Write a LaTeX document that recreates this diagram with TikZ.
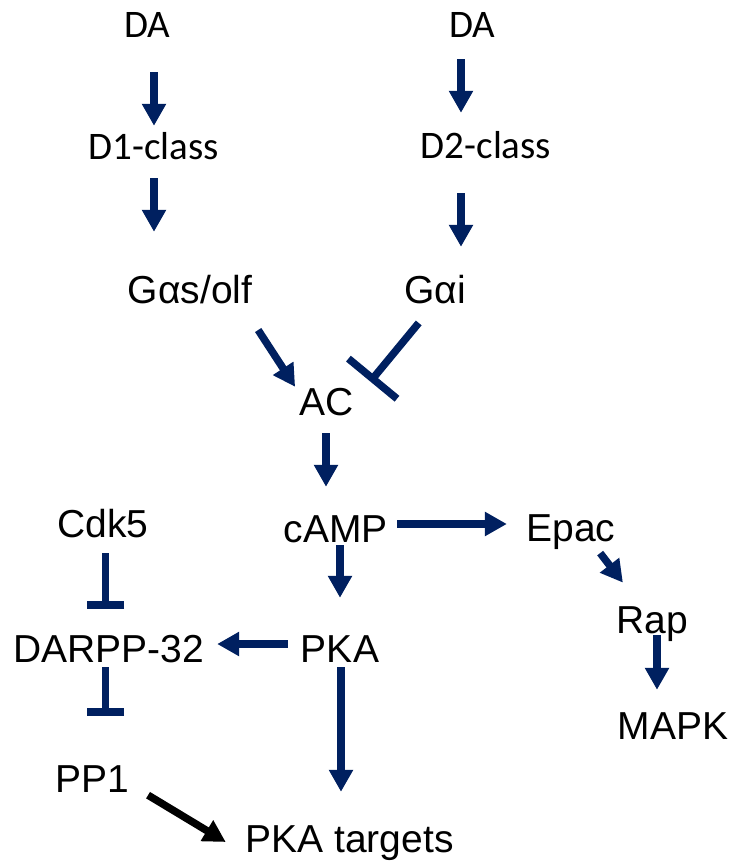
\documentclass[tikz,border=0pt]{standalone}
\usepackage{fontspec}
\setmainfont{Liberation Sans}
\newfontfamily\calibri{Carlito}
\usetikzlibrary{arrows.meta}
\definecolor{navy}{RGB}{0,32,96}
\begin{document}
\begin{tikzpicture}[x=1pt, y=-1pt, font=\fontsize{39}{46}\selectfont,
 lbl/.style={inner sep=0pt, text height=28pt, text depth=0pt},
 dlbl/.style={lbl, font=\fontsize{39}{46}\selectfont\calibri, text height=25pt},
 act/.style={draw=navy, line width=7.5pt, -{Triangle[width=23pt,length=22pt]}},
 inh/.style={draw=navy, line width=7.5pt, -{Bar[width=37pt]}}]
 \useasboundingbox (0,0) rectangle (730,861);
 \node[dlbl] (da1) at (147.5,25) {DA};
 \node[dlbl] (d1) at (153.5,147) {D1-class};
 \node[dlbl] (da2) at (472.5,25) {DA};
 \node[dlbl] (d2) at (486,146) {D2-class};
 \node[lbl] (gs) at (190,289) {Gαs/olf};
 \node[lbl] (gi) at (435,289) {Gαi};
 \node[lbl] (ac) at (327,401) {AC};
 \node[lbl] (camp) at (336,528) {cAMP};
 \node[lbl] (epac) at (571,527) {Epac};
 \node[lbl] (rap) at (652,619) {Rap};
 \node[lbl] (mapk) at (673,725) {MAPK};
 \node[lbl] (cdk) at (103,523) {Cdk5};
 \node[lbl] (darpp) at (109,648) {DARPP-32};
 \node[lbl] (pka) at (340,648) {PKA};
 \node[lbl] (pp1) at (92.5,778) {PP1};
 \node[lbl] (tgt) at (349.5,838) {PKA targets};
 \draw[act, shorten <=34.5pt, shorten >=8.5pt] ([xshift=6.5pt]da1.south) -- ([xshift=0.5pt]d1.north);
 \draw[act, shorten <=18.5pt, shorten >=43pt] ([xshift=0.5pt]d1.south) -- ([xshift=-36pt]gs.north);
 \draw[act, shorten <=21.5pt, shorten >=20.5pt] ([xshift=-11.5pt]da2.south) -- ([xshift=-25pt]d2.north);
 \draw[act, shorten <=34.5pt, shorten >=28pt] ([xshift=-25pt]d2.south) -- ([xshift=26pt]gi.north);
 \draw[act, shorten <=32pt] ([xshift=-11.7pt]gs.south east) -- ([xshift=-4.6pt]ac.north west);
 \draw[inh, -{Bar[width=63pt]}, shorten <=25.6pt, shorten >=25.2pt] (gi.south) -- (ac.east);
 \draw[act, shorten <=18pt, shorten >=27pt] ([xshift=-1pt]ac.south) -- ([xshift=-10pt]camp.north);
 \draw[act, shorten <=9pt, shorten >=19.5pt] ([yshift=4pt]camp.east) -- ([yshift=3pt]epac.west);
 \draw[act, shorten <=15pt, shorten >=28pt] ([xshift=20pt]epac.south) -- ([xshift=-12pt]rap.north);
 \draw[act, shorten <=2pt, shorten >=21pt] ([xshift=5pt]rap.south) -- ([xshift=-16pt]mapk.north);
 \draw[act, shorten <=3pt, shorten >=36pt] ([xshift=4pt]camp.south) -- (pka.north);
 \draw[act, shorten <=13pt, shorten >=12.6pt] ([yshift=4pt]pka.west) -- ([yshift=4pt]darpp.east);
 \draw[act, shorten <=5pt, shorten >=32pt] ([xshift=1pt]pka.south) -- ([xshift=-8.5pt]tgt.north);
 \draw[inh, shorten <=16pt, shorten >=25pt] ([xshift=2.5pt]cdk.south) -- ([xshift=-3.5pt]darpp.north);
 \draw[inh, shorten <=5pt, shorten >=48pt] ([xshift=-3.5pt]darpp.south) -- ([xshift=13pt]pp1.north);
 \draw[act, draw=black, shorten <=21.6pt, shorten >=22.8pt] ([yshift=-6pt]pp1.east) -- ([yshift=-15.75pt]tgt.west);
\end{tikzpicture}
\end{document}
